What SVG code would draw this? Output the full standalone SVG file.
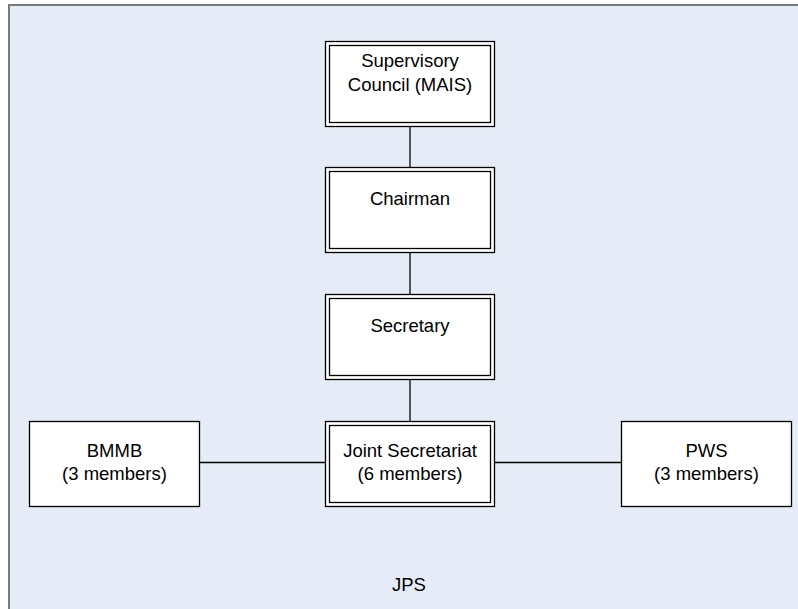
<svg xmlns="http://www.w3.org/2000/svg" width="798" height="609" viewBox="0 0 798 609">
<style>
.bg{fill:#e6ecf7;stroke:#7a7a7a;stroke-width:2}
.box{fill:#ffffff;stroke:#000000;stroke-width:1.3}
.inner{fill:none;stroke:#000000;stroke-width:1.3}
.lbl{font-family:"Liberation Sans",Arial,sans-serif;font-size:18.5px;fill:#000000;text-anchor:middle}
.edge{stroke:#000000;stroke-width:1.3;fill:none}
</style>
<rect x="0" y="0" width="798" height="609" fill="#ffffff"/>
<g id="container">
<rect class="bg" x="9" y="5" width="800" height="620"/>
<text class="lbl" x="409" y="591">JPS</text>
</g>
<g id="connectors">
<line class="edge" x1="410" y1="126" x2="410" y2="167"/>
<line class="edge" x1="410" y1="252" x2="410" y2="294"/>
<line class="edge" x1="410" y1="379" x2="410" y2="421"/>
<line class="edge" x1="200" y1="462.5" x2="325" y2="462.5"/>
<line class="edge" x1="495" y1="462.5" x2="621" y2="462.5"/>
</g>
<g id="supervisory">
<rect class="box" x="325.5" y="41.5" width="169" height="85"/>
<rect class="inner" x="329.5" y="45.5" width="161" height="77"/>
<text class="lbl" x="410" y="67">Supervisory</text>
<text class="lbl" x="410" y="91">Council (MAIS)</text>
</g>
<g id="chairman">
<rect class="box" x="325.5" y="167.5" width="169" height="85"/>
<rect class="inner" x="329.5" y="171.5" width="161" height="77"/>
<text class="lbl" x="410" y="204.5">Chairman</text>
</g>
<g id="secretary">
<rect class="box" x="325.5" y="294.5" width="169" height="85"/>
<rect class="inner" x="329.5" y="298.5" width="161" height="77"/>
<text class="lbl" x="410" y="332">Secretary</text>
</g>
<g id="joint">
<rect class="box" x="325.5" y="421.5" width="169" height="85"/>
<rect class="inner" x="329.5" y="425.5" width="161" height="77"/>
<text class="lbl" x="410" y="457">Joint Secretariat</text>
<text class="lbl" x="410" y="480">(6 members)</text>
</g>
<g id="bmmb">
<rect class="box" x="29.5" y="421.5" width="170" height="85"/>
<text class="lbl" x="114.5" y="457">BMMB</text>
<text class="lbl" x="114.5" y="480">(3 members)</text>
</g>
<g id="pws">
<rect class="box" x="621.5" y="421.5" width="170" height="85"/>
<text class="lbl" x="706.5" y="457">PWS</text>
<text class="lbl" x="706.5" y="480">(3 members)</text>
</g>
</svg>
